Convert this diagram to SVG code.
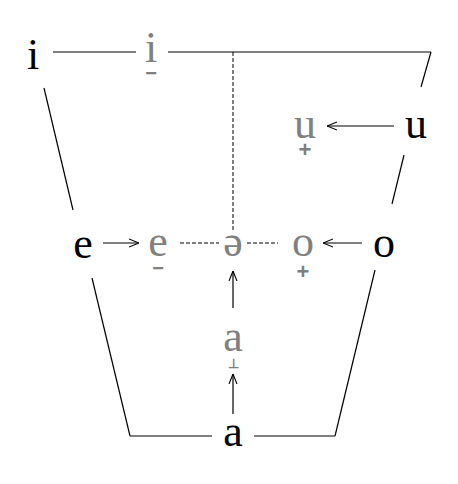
<svg xmlns="http://www.w3.org/2000/svg" width="458" height="484" viewBox="0 0 458 484">
<style>
text{font-family:"Liberation Serif","Times New Roman",serif;font-size:44px;text-anchor:middle}
.b{fill:#000}
.g{fill:#808080}
.d{font-family:"Liberation Sans",Arial,sans-serif;font-size:20px;font-weight:bold}
.l{stroke:#000;stroke-width:1.2;fill:none}
.dash{stroke:#000;stroke-width:1;stroke-dasharray:4,2;fill:none}
</style>
<defs>
<marker id="ah" viewBox="0 0 10 10" refX="10" refY="5" markerWidth="10" markerHeight="10" markerUnits="userSpaceOnUse" orient="auto">
<path d="M0,1 L10,5 L0,9" fill="none" stroke="#000" stroke-width="1.1"/>
</marker>
</defs>
<g id="connectors">
<line class="l" x1="53" y1="52" x2="136" y2="52"/>
<line class="l" x1="168" y1="52" x2="431" y2="52"/>
<line class="l" x1="431" y1="52" x2="421" y2="87"/>
<line class="l" x1="404" y1="155" x2="392" y2="204"/>
<line class="l" x1="44" y1="88" x2="73" y2="210"/>
<line class="l" x1="92" y1="278" x2="130" y2="436"/>
<line class="l" x1="130" y1="436" x2="212" y2="436"/>
<line class="l" x1="254" y1="436" x2="335" y2="436"/>
<line class="l" x1="335" y1="436" x2="375" y2="270"/>
<line class="dash" x1="233" y1="52" x2="233" y2="230"/>
<line class="dash" x1="180" y1="243" x2="219" y2="243"/>
<line class="dash" x1="247" y1="243" x2="278" y2="243"/>
<line class="l" x1="394" y1="126" x2="327" y2="126" marker-end="url(#ah)"/>
<line class="l" x1="103" y1="243" x2="139" y2="243" marker-end="url(#ah)"/>
<line class="l" x1="362" y1="243" x2="323" y2="243" marker-end="url(#ah)"/>
<line class="l" x1="233" y1="308" x2="233" y2="271" marker-end="url(#ah)"/>
<line class="l" x1="233" y1="414" x2="233" y2="374" marker-end="url(#ah)"/>
</g>
<g id="n-i"><text class="b" x="33" y="69">i</text></g>
<g id="n-i-retracted"><text class="g"><tspan x="151" y="62">i</tspan><tspan class="d" x="151" y="80">−</tspan></text></g>
<g id="n-u"><text class="b" x="416" y="138">u</text></g>
<g id="n-u-advanced"><text class="g"><tspan x="305" y="138">u</tspan><tspan class="d" x="305" y="157" style="font-size:22px">+</tspan></text></g>
<g id="n-e"><text class="b" x="83" y="258">e</text></g>
<g id="n-e-retracted"><text class="g"><tspan x="158" y="256">e</tspan><tspan class="d" x="158" y="275">−</tspan></text></g>
<g id="n-schwa"><text class="g" x="233" y="256">ə</text></g>
<g id="n-o-advanced"><text class="g"><tspan x="303" y="256">o</tspan><tspan class="d" x="303" y="279" style="font-size:22px">+</tspan></text></g>
<g id="n-o"><text class="b" x="384" y="257">o</text></g>
<g id="n-a-raised"><text class="g"><tspan x="233" y="351">a</tspan><tspan class="d" x="233" y="368" style="font-size:13px">⊥</tspan></text></g>
<g id="n-a"><text class="b" x="233" y="446">a</text></g>
</svg>
